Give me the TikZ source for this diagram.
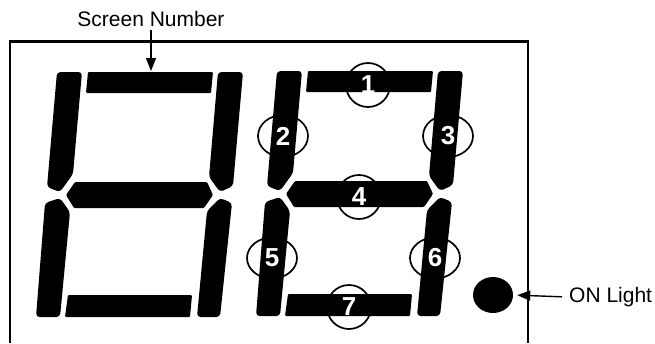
\documentclass[tikz,border=0pt]{standalone}
\usepackage{fontspec}
\setmainfont{Liberation Sans}
\usetikzlibrary{arrows.meta,shapes.geometric}
\newcommand\segdigit{%
  \fill[hseg] (88,72) -- (213,72) -- (211,93) -- (86,93) -- cycle;
  \fill[vseg] (57,72) -- (82,72) -- (73,174) -- (60,192) -- (47,187) -- cycle;
  \fill[vseg] (218,72) -- (243,72) -- (233,186) -- (220,192) -- (209,177) -- cycle;
  \fill[hseg] (66,195) -- (75,182) -- (207,182) -- (213,195) -- (204,208) -- (74,208) -- cycle;
  \fill[vseg] (60,198) -- (70,212) -- (60,317) -- (36,317) -- (45,203) -- cycle;
  \fill[vseg] (220,198) -- (232,203) -- (220,317) -- (197,317) -- (207,211) -- cycle;
  \fill[hseg] (68,295) -- (192,295) -- (190,317) -- (65,317) -- cycle;
}
\begin{document}
\begin{tikzpicture}[x=1pt,y=-1pt,
  hseg/.style={fill=black, rounded corners=1pt},
  vseg/.style={fill=black, rounded corners=3.5pt},
  ring/.style={ellipse, draw, line width=1.7pt, inner sep=0pt, text=white,
    font=\fontsize{26}{26}\selectfont\bfseries},
  arr/.style={line width=1.4pt, -{Triangle[length=13pt,width=10pt]}},
  lbl/.style={font=\fontsize{21}{21}\selectfont, inner sep=2pt}]
\useasboundingbox (0,0) rectangle (655,343);
% frame
\draw[line width=2.2pt] (10,343) -- (10,41.5) -- (528,41.5) -- (528,343);
% digits
\segdigit
\begin{scope}[shift={(220,-1)}]
  \segdigit
\end{scope}
% numbered rings
\node[ring, minimum width=44pt, minimum height=44pt] (n1) at (368,85) {1};
\node[ring, minimum width=50pt, minimum height=42pt] (n2) at (283,136) {2};
\node[ring, minimum width=50pt, minimum height=42pt] (n3) at (448,136) {3};
\node[ring, minimum width=44pt, minimum height=44pt] (n4) at (359,197) {4};
\node[ring, minimum width=50pt, minimum height=41pt] (n5) at (272,258) {5};
\node[ring, minimum width=50pt, minimum height=41pt] (n6) at (435,258) {6};
\node[ring, minimum width=44pt, minimum height=44pt] (n7) at (349,307) {7};
% ON light
\node[ellipse, fill=black, minimum width=40pt, minimum height=36pt, inner sep=0pt] (dot) at (493,295) {};
\node[lbl, anchor=west] (on) at (567,297) {ON Light};
\draw[arr, shorten <=5pt, shorten >=4pt] (on.west) -- (dot.east);
% screen number
\node[lbl, anchor=base] (sn) at (151,26.5) {Screen Number};
\coordinate (tipA) at (151,71);
\draw[arr, shorten <=1pt] (sn.south) -- (tipA);
\end{tikzpicture}
\end{document}
